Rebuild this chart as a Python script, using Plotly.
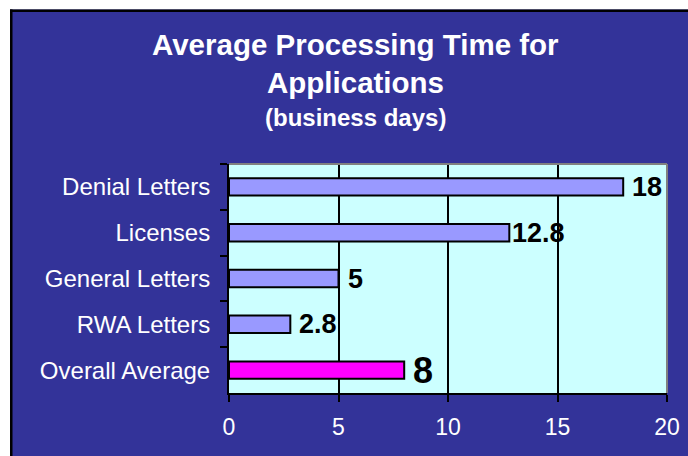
import plotly.graph_objects as go

categories = ["Denial Letters", "Licenses", "General Letters", "RWA Letters", "Overall Average"]
values = [18, 12.8, 5, 2.8, 8]
value_labels = ["18", "12.8", "5", "2.8", "8"]
x_ticks = [0, 5, 10, 15, 20]

bar_colors = ["#9999FF", "#9999FF", "#9999FF", "#9999FF", "#FF00FF"]
label_sizes = [27, 27, 27, 27, 36]

W, H = 688, 456
L, R, T, B = 229, 21, 164, 63
pw, ph = W - L - R, H - T - B

def px(x):
    return (x - L) / pw

def py(y):
    return (H - B - y) / ph

fig = go.Figure()
fig.add_trace(go.Bar(
    x=values, y=categories, orientation="h",
    marker=dict(color=bar_colors, line=dict(color="black", width=2)),
    width=0.38, hoverinfo="skip",
))

for c, v, t, s in zip(categories, values, value_labels, label_sizes):
    fig.add_annotation(
        x=v, y=c, xref="x", yref="y", text=t, showarrow=False,
        xanchor="left", yanchor="middle", xshift=7 if v != 12.8 else 1,
        font=dict(family="Liberation Sans, Arial, sans-serif", size=s, color="black", weight="bold"),
    )

title_font = dict(family="Liberation Sans, Arial, sans-serif", color="white", weight="bold")
fig.add_annotation(x=px(355), y=py(44), xref="paper", yref="paper", showarrow=False,
                   text="Average Processing Time for", xanchor="center", yanchor="middle",
                   font=dict(size=29.5, **title_font))
fig.add_annotation(x=px(355), y=py(82), xref="paper", yref="paper", showarrow=False,
                   text="Applications", xanchor="center", yanchor="middle",
                   font=dict(size=29.5, **title_font))
fig.add_annotation(x=px(355), y=py(117), xref="paper", yref="paper", showarrow=False,
                   text="(business days)", xanchor="center", yanchor="middle",
                   font=dict(size=24, **title_font))

shapes = [
    # plot frame: gray top/right
    dict(type="line", xref="paper", yref="paper", x0=0, x1=1, y0=1, y1=1, line=dict(color="#808080", width=2)),
    dict(type="line", xref="paper", yref="paper", x0=1, x1=1, y0=0, y1=1, line=dict(color="#808080", width=2)),
    # outer white margins + black frame
    dict(type="rect", xref="paper", yref="paper", x0=px(-5), x1=px(W + 5), y0=py(-5), y1=py(9.5),
         fillcolor="white", line=dict(width=0), layer="above"),
    dict(type="rect", xref="paper", yref="paper", x0=px(-5), x1=px(10), y0=py(-5), y1=py(H + 5),
         fillcolor="white", line=dict(width=0), layer="above"),
    dict(type="rect", xref="paper", yref="paper", x0=px(10), x1=px(W + 5), y0=py(9.5), y1=py(12),
         fillcolor="black", line=dict(width=0), layer="above"),
    dict(type="rect", xref="paper", yref="paper", x0=px(10), x1=px(12.5), y0=py(9.5), y1=py(H + 5),
         fillcolor="black", line=dict(width=0), layer="above"),
]

fig.update_layout(
    template="none",
    width=W, height=H, autosize=False,
    margin=dict(l=L, r=R, t=T, b=B, pad=0, autoexpand=False),
    paper_bgcolor="#333399", plot_bgcolor="#CCFFFF",
    showlegend=False, shapes=shapes,
    font=dict(family="Liberation Sans, Arial, sans-serif", color="white"),
    xaxis=dict(range=[0, 20], tickvals=x_ticks, ticktext=[str(v) for v in x_ticks],
               automargin=False,
               showgrid=True, gridcolor="black", gridwidth=2, zeroline=False,
               showline=True, linecolor="black", linewidth=2,
               ticks="outside", ticklen=7, tickwidth=2, tickcolor="black",
               tickfont=dict(size=23, color="white"), ticklabelstandoff=5, fixedrange=True),
    yaxis=dict(categoryorder="array", categoryarray=categories, autorange="reversed",
               automargin=False,
               showgrid=False, zeroline=False, showline=True, linecolor="black", linewidth=2,
               ticks="outside", ticklen=7, tickwidth=2, tickcolor="black", tickson="boundaries",
               tickfont=dict(size=24, color="white"), ticklabelstandoff=12, fixedrange=True),
)

css = ("var s=document.createElement('style');"
       "s.textContent='html,body{margin:0;padding:0;overflow:hidden;background:#333399;}';"
       "document.head.appendChild(s);")
fig.write_html("out.html", config={"displayModeBar": False, "responsive": False},
               post_script=css)
